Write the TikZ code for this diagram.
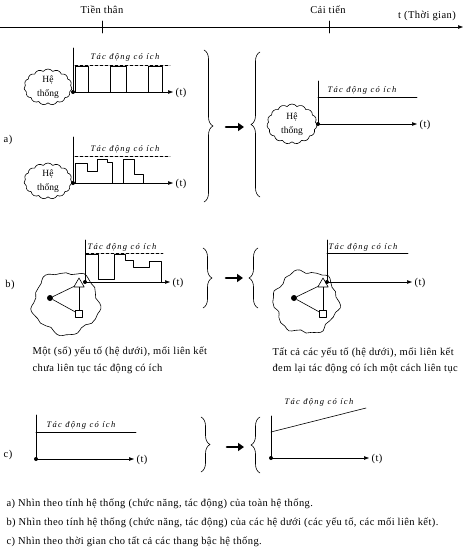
\documentclass[tikz,border=0pt]{standalone}
\usepackage{fontspec}
\setmainfont{Liberation Serif}
\usetikzlibrary{arrows.meta,decorations.pathreplacing,shapes.geometric,shapes.symbols}
\tikzset{
    lab/.style={
        font=\fontsize{10.5}{12}\selectfont\addfontfeature{LetterSpace=4}
    },
    gain/.style={
        font=\fontsize{8.5}{9}\selectfont\itshape\addfontfeature{LetterSpace=15}
    }
}

\begin{document}
\begin{tikzpicture}[x=1pt,y=-1pt, line cap=round, line join=round]

\tikzset{
  main/.style={draw=black, line width=0.6pt},
  axis/.style={main, -{Triangle[length=5pt,width=3.5pt]}},
  level/.style={main, dash pattern=on 3pt off 2pt},
  bigarrow/.style={line width=2.6pt, -{Triangle[length=6pt,width=8pt]}},
  curly/.style={main, decorate, decoration={brace, amplitude=9pt}},
  org/.style={circle, fill=black, inner sep=0pt, minimum size=4pt},
  hethong/.style={cloud, draw, line width=0.6pt, cloud puffs=15, cloud puff arc=110, aspect=1.3, inner sep=0pt,
    minimum width=48pt, minimum height=36pt, align=center, font=\fontsize{9.5}{14}\selectfont},
  elem/.style={draw, fill=white, line width=0.6pt, inner sep=0pt},
}

\useasboundingbox (0,0) rectangle (467,557);

% time axis
\coordinate (T0) at (0,27);
\coordinate (T1) at (463,27);
\draw[axis] (T0) -- (T1);
\draw[main] (102,21) -- (102,33);
\draw[main] (329,21) -- (329,33);
\node[lab] (pre) at (102,10) {Tiền thân};
\node[lab] (post) at (328,10) {Cải tiến};
\node[lab] (tlab) at (427,16) {t (Thời gian)};

% a) first graph
\coordinate (A1) at (73,92);
\coordinate (A1top) at (73,48);
\coordinate (A1end) at (173,92);
\coordinate (A1l) at (75,65);
\coordinate (A1r) at (170,65);
\draw[main] (A1) -- (A1top);
\draw[axis] (A1) -- (A1end);
\draw[level] (A1l) -- (A1r);
\draw[main] (75,92) -- (75,66) -- (88,66) -- (88,92);
\draw[main] (110,92) -- (110,66) -- (126,66) -- (126,92);
\draw[main] (148,92) -- (148,66) -- (162,66) -- (162,92);
\node[gain] (A1g) at (125,57) {Tác động có ích};
\node[lab] (A1t) at (181,93) {(t)};
\node[hethong] (C1) at (48,87) {Hệ\\thống};
\node[org] at (A1) {};

% a) second graph
\coordinate (A2) at (73,183);
\coordinate (A2top) at (73,137);
\coordinate (A2end) at (173,183);
\coordinate (A2l) at (75,156);
\coordinate (A2r) at (170,156);
\draw[main] (A2) -- (A2top);
\draw[axis] (A2) -- (A2end);
\draw[level] (A2l) -- (A2r);
\draw[main] (75,183) -- (75,163) -- (87,163) -- (87,171) -- (97,171) -- (97,159) -- (107,159)
  -- (107,162) -- (112,162) -- (112,183);
\draw[main] (123,183) -- (123,159) -- (134,159) -- (134,174) -- (143,174) -- (143,183);
\node[gain] (A2g) at (125,149) {Tác động có ích};
\node[lab] (A2t) at (181,184) {(t)};
\node[hethong] (C2) at (48,181) {Hệ\\thống};
\node[org] at (A2) {};
\node[lab] (la) at (8,140) {a)};

% a) braces
\coordinate (BRa1) at (204,50);
\coordinate (BRa2) at (204,202);
\draw[curly] (BRa1) -- (BRa2);
\coordinate (ARa1) at (226,127);
\coordinate (ARa2) at (244,127);
\draw[bigarrow] (ARa1) -- (ARa2);
\coordinate (BLa1) at (260,197);
\coordinate (BLa2) at (260,52);
\draw[curly] (BLa1) -- (BLa2);

% a) improved graph
\coordinate (A3) at (318,124);
\coordinate (A3top) at (318,81);
\coordinate (A3end) at (417,124);
\coordinate (A3l) at (318,97);
\coordinate (A3r) at (417,97);
\draw[main] (A3) -- (A3top);
\draw[axis] (A3) -- (A3end);
\draw[main] (A3l) -- (A3r);
\node[gain] (A3g) at (362,90) {Tác động có ích};
\node[lab] (A3t) at (425,125) {(t)};
\node[hethong, minimum width=50pt, minimum height=40pt] (C3) at (292,124) {Hệ\\thống};
\node[org] at (A3) {};

% b) first graph
\coordinate (B1) at (85,282);
\coordinate (B1top) at (85,240);
\coordinate (B1end) at (170,282);
\coordinate (B1l) at (86,253);
\coordinate (B1r) at (163,253);
\draw[main] (B1) -- (B1top);
\draw[axis] (B1) -- (B1end);
\draw[level] (B1l) -- (B1r);
\draw[main] (86,254) -- (98,254) -- (98,279) -- (114,279) -- (114,254) -- (125,254) -- (125,260)
  -- (133,260) -- (133,267) -- (149,267) -- (149,261) -- (161,261) -- (161,282);
\node[gain] (B1g) at (122,247) {Tác động có ích};
\node[lab] (B1t) at (178,283) {(t)};
\draw[main] plot[smooth cycle, tension=0.8, domain=0:350, samples=36, variable=\t]
  ({66+33*cos(\t)*(1+0.06*sin(5*\t)+0.04*sin(11*\t+30))},
   {303+31*sin(\t)*(1+0.06*sin(5*\t)+0.04*sin(11*\t+30))});
\node[circle, fill=black, inner sep=0pt, minimum size=6pt] (B1a) at (50,298) {};
\node[elem, regular polygon, regular polygon sides=3, minimum size=12pt] (B1b) at (79,284) {};
\node[elem, minimum size=7pt] (B1c) at (79,314) {};
\draw[main] (B1a) -- (B1b);
\draw[main] (B1a) -- (B1c);
\draw[main] (B1b) -- (B1c);
\node[org] at (B1) {};
\node[lab] (lb) at (10,285) {b)};
\node[lab, anchor=west] (B1x) at (29,352) {Một (số) yếu tố (hệ dưới), mối liên kết};
\node[lab, anchor=west] (B1y) at (29,369) {chưa liên tục tác động có ích};

% b) braces
\coordinate (BRb1) at (203,248);
\coordinate (BRb2) at (203,308);
\draw[curly] (BRb1) -- (BRb2);
\coordinate (ARb1) at (226,278);
\coordinate (ARb2) at (243,278);
\draw[bigarrow] (ARb1) -- (ARb2);
\coordinate (BLb1) at (258,308);
\coordinate (BLb2) at (258,248);
\draw[curly] (BLb1) -- (BLb2);

% b) improved graph
\coordinate (B2) at (327,282);
\coordinate (B2top) at (327,240);
\coordinate (B2end) at (412,282);
\coordinate (B2l) at (327,253);
\coordinate (B2r) at (408,253);
\draw[main] (B2) -- (B2top);
\draw[axis] (B2) -- (B2end);
\draw[main] (B2l) -- (B2r);
\node[gain] (B2g) at (363,247) {Tác động có ích};
\node[lab] (B2t) at (420,283) {(t)};
\draw[main] plot[smooth cycle, tension=0.8, domain=0:350, samples=36, variable=\t]
  ({306+32*cos(\t)*(1+0.06*sin(6*\t+40)+0.04*sin(13*\t))},
   {302+31*sin(\t)*(1+0.06*sin(6*\t+40)+0.04*sin(13*\t))});
\node[circle, fill=black, inner sep=0pt, minimum size=6pt] (B2a) at (294,298) {};
\node[elem, regular polygon, regular polygon sides=3, minimum size=12pt] (B2b) at (323,284) {};
\node[elem, minimum size=7pt] (B2c) at (323,314) {};
\draw[main] (B2a) -- (B2b);
\draw[main] (B2a) -- (B2c);
\draw[main] (B2b) -- (B2c);
\node[org] at (B2) {};
\node[lab, anchor=west] (B2x) at (269,353) {Tất cả các yếu tố (hệ dưới), mối liên kết};
\node[lab, anchor=west] (B2y) at (269,369) {đem lại tác động có ích một cách liên tục};

% c) first graph
\coordinate (C1o) at (36,459);
\coordinate (C1top) at (36,415);
\coordinate (C1end) at (134,459);
\coordinate (C1l) at (36,432);
\coordinate (C1r) at (136,432);
\draw[main] (C1o) -- (C1top);
\draw[axis] (C1o) -- (C1end);
\draw[main] (C1l) -- (C1r);
\node[gain] (C1g) at (81,425) {Tác động có ích};
\node[lab] (C1t) at (142,460) {(t)};
\node[org] at (C1o) {};
\node[lab] (lc) at (8,455) {c)};

% c) braces
\coordinate (BRc1) at (201,417);
\coordinate (BRc2) at (201,472);
\draw[curly] (BRc1) -- (BRc2);
\coordinate (ARc1) at (227,447);
\coordinate (ARc2) at (244,447);
\draw[bigarrow] (ARc1) -- (ARc2);
\coordinate (BLc1) at (260,473);
\coordinate (BLc2) at (260,417);
\draw[curly] (BLc1) -- (BLc2);

% c) improved graph
\coordinate (C2o) at (271,458);
\coordinate (C2top) at (271,416);
\coordinate (C2end) at (369,458);
\coordinate (C2l) at (271,432);
\coordinate (C2r) at (366,408);
\draw[main] (C2o) -- (C2top);
\draw[axis] (C2o) -- (C2end);
\draw[main] (C2l) -- (C2r);
\node[gain] (C2g) at (319,402) {Tác động có ích};
\node[lab] (C2t) at (377,459) {(t)};
\node[org] at (C2o) {};

% captions
\node[lab, anchor=west] (capa) at (3,504) {a) Nhìn theo tính hệ thống (chức năng, tác động) của toàn hệ thống.};
\node[lab, anchor=west] (capb) at (3,523) {b) Nhìn theo tính hệ thống (chức năng, tác động) của các hệ dưới (các yếu tố, các mối liên kết).};
\node[lab, anchor=west] (capc) at (3,542) {c) Nhìn theo thời gian cho tất cả các thang bậc hệ thống.};

\end{tikzpicture}
\end{document}
